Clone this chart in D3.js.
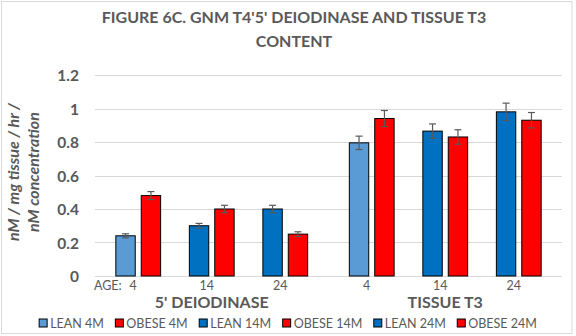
<!DOCTYPE html>
<html>
<head>
<meta charset="utf-8">
<script src="https://cdn.jsdelivr.net/npm/d3@7"></script>
<style>
  html, body { margin: 0; padding: 0; background: #fff; }
  svg { display: block; font-family: Lato, "Open Sans", sans-serif; }
</style>
</head>
<body>
<svg id="chart" width="576" height="336"></svg>
<script>
// ---- data ----
const titleLines = ["FIGURE 6C. GNM T4'5' DEIODINASE AND TISSUE T3", "CONTENT"];
const yAxisTitle = ["nM / mg tissue / hr /", "nM concentration"];
const measures = ["5' DEIODINASE", "TISSUE T3"];
const ages = ["4", "14", "24"];
const groups = ["LEAN", "OBESE"];
const seriesNames = ["LEAN 4M", "OBESE 4M", "LEAN 14M", "OBESE 14M", "LEAN 24M", "OBESE 24M"];
const seriesColors = ["#5B9BD5", "#FF0000", "#0070C0", "#FF0000", "#0070C0", "#FF0000"];
const deiodinaseValues = [0.24, 0.48, 0.30, 0.40, 0.40, 0.25];
const deiodinaseErrors = [0.012, 0.024, 0.014, 0.022, 0.022, 0.014];
const tissueT3Values = [0.795, 0.94, 0.865, 0.83, 0.98, 0.93];
const tissueT3Errors = [0.040, 0.048, 0.043, 0.043, 0.052, 0.046];
const yTicks = [0, 0.2, 0.4, 0.6, 0.8, 1, 1.2];
const ageLabel = "AGE:";

const valuesByMeasure = [deiodinaseValues, tissueT3Values];
const errorsByMeasure = [deiodinaseErrors, tissueT3Errors];

const rows = [];
measures.forEach((m, mi) => {
  seriesNames.forEach((s, si) => {
    rows.push({
      measure: m,
      age: ages[Math.floor(si / 2)],
      group: groups[si % 2],
      series: s,
      color: seriesColors[si],
      value: valuesByMeasure[mi][si],
      err: errorsByMeasure[mi][si]
    });
  });
});

// ---- layout ----
const svg = d3.select("#chart");
const grey = "#595959";
const plot = { left: 95, right: 562, top: 75, bottom: 276 };

svg.append("rect")
  .attr("x", 1.5).attr("y", 1.5).attr("width", 570.5).attr("height", 332)
  .attr("fill", "#fff").attr("stroke", "#d9d9d9").attr("stroke-width", 1);

const y = d3.scaleLinear().domain([0, 1.2]).range([plot.bottom, plot.top]);
const xMeasure = d3.scaleBand().domain(measures).range([plot.left, plot.right]).padding(0);
const xAge = d3.scaleBand().domain(ages).range([0, xMeasure.bandwidth()]).paddingInner(0).paddingOuter(0.088);
const xGroup = d3.scaleBand().domain(groups).range([-22.4, 22.4]).paddingInner(0.236).paddingOuter(0);

const ageCenter = (m, a) => xMeasure(m) + xAge(a) + xAge.bandwidth() / 2;

// gridlines
svg.append("g")
  .selectAll("line")
  .data(yTicks)
  .join("line")
  .attr("x1", plot.left).attr("x2", plot.right)
  .attr("y1", d => Math.round(y(d)) + 0.5).attr("y2", d => Math.round(y(d)) + 0.5)
  .attr("stroke", "#d9d9d9").attr("stroke-width", 1);

// y axis labels
const yAxis = d3.axisLeft(y).tickValues(yTicks).tickFormat(d3.format("~g")).tickSize(0).tickPadding(0);
const yAxisG = svg.append("g").attr("transform", `translate(79,0)`).call(yAxis);
yAxisG.select(".domain").remove();
yAxisG.selectAll("text")
  .attr("fill", grey).attr("font-size", "15.5px").attr("font-weight", "bold")
  .attr("font-family", "Lato, sans-serif").attr("dy", "0.36em");

// bars
svg.append("g")
  .selectAll("rect")
  .data(rows)
  .join("rect")
  .attr("x", d => ageCenter(d.measure, d.age) + xGroup(d.group))
  .attr("y", d => y(d.value))
  .attr("width", xGroup.bandwidth())
  .attr("height", d => y(0) - y(d.value))
  .attr("fill", d => d.color)
  .attr("stroke", "#000").attr("stroke-width", 1);

// error bars
const eb = svg.append("g").attr("stroke", grey).attr("stroke-width", 1.2);
rows.forEach(d => {
  const cx = ageCenter(d.measure, d.age) + xGroup(d.group) + xGroup.bandwidth() / 2;
  const y1 = y(d.value + d.err), y2 = y(d.value - d.err);
  eb.append("line").attr("x1", cx).attr("x2", cx).attr("y1", y1).attr("y2", y2);
  eb.append("line").attr("x1", cx - 3.5).attr("x2", cx + 3.5).attr("y1", y1).attr("y2", y1);
  eb.append("line").attr("x1", cx - 3.5).attr("x2", cx + 3.5).attr("y1", y2).attr("y2", y2);
});

// age labels
const ageG = svg.append("g").attr("fill", grey).attr("font-size", "12.5px").attr("text-anchor", "middle");
measures.forEach(m => {
  ages.forEach(a => {
    ageG.append("text").attr("x", ageCenter(m, a) - 5).attr("y", 289.5).text(a);
  });
});
svg.append("text").attr("x", 94).attr("y", 289.5).attr("fill", grey)
  .attr("font-size", "12.5px").text(ageLabel);

// measure labels
svg.append("g").selectAll("text").data(measures).join("text")
  .attr("x", d => xMeasure(d) + xMeasure.bandwidth() / 2)
  .attr("y", 308)
  .attr("text-anchor", "middle").attr("fill", grey)
  .attr("font-size", "16px").attr("font-weight", "bold")
  .text(d => d);

// title
svg.append("g").selectAll("text").data(titleLines).join("text")
  .attr("x", 294).attr("y", (d, i) => 22.5 + i * 24)
  .attr("text-anchor", "middle").attr("fill", grey)
  .attr("font-size", "16px").attr("font-weight", "bold")
  .text(d => d);

// y axis title
svg.append("g").attr("transform", "translate(0,172) rotate(-90)")
  .selectAll("text").data(yAxisTitle).join("text")
  .attr("x", 0).attr("y", (d, i) => 19 + i * 20)
  .attr("text-anchor", "middle").attr("fill", grey)
  .attr("font-size", "16px").attr("font-weight", "bold").attr("font-style", "italic")
  .text(d => d);

// legend
const legend = svg.append("g");
const items = legend.selectAll("g").data(seriesNames).join("g");
items.append("rect").attr("x", 0).attr("y", -4).attr("width", 8).attr("height", 8)
  .attr("fill", (d, i) => seriesColors[i]).attr("stroke", "#000").attr("stroke-width", 1);
items.append("text").attr("x", 11).attr("y", 0).attr("dy", "0.36em")
  .attr("fill", grey).attr("font-size", "12.5px").text(d => d);
let lx = 0;
const gap = 11.5;
items.each(function () {
  const w = this.getBBox().width;
  d3.select(this).attr("transform", `translate(${lx},323)`);
  lx += w + gap;
});
const total = lx - gap;
legend.attr("transform", `translate(${288 - total / 2},0)`);
</script>
</body>
</html>
